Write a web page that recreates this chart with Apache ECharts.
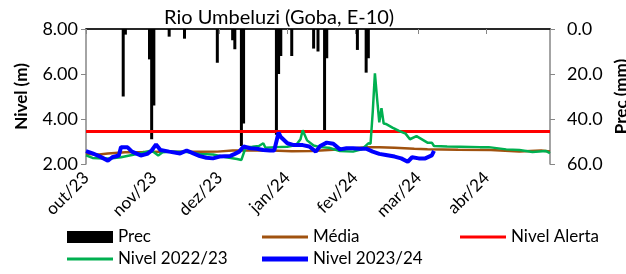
<!DOCTYPE html>
<html>
<head>
<meta charset="utf-8">
<script src="https://cdn.jsdelivr.net/npm/echarts@6/dist/echarts.min.js"></script>
<style>
    html, body {margin: 0; padding: 0; background: #fff;}
    #chart {width: 626px; height: 274px;}
</style>
</head>
<body>
<div id="chart"></div>
<script>
    // x axis: one category per day, 1 Oct 2023 .. 30 Apr 2024
    const monthLabels = ['out/23', 'nov/23', 'dez/23', 'jan/24', 'fev/24', 'mar/24', 'abr/24'];

    // precipitation (mm), day = days since 1 Oct 2023
    const precDays = [17, 18, 29, 30, 31, 38, 45, 60, 67, 68, 71, 72, 87, 88, 89, 94, 104, 106, 109, 110, 124, 128, 129];
    const precMm = [30, 2.5, 13.5, 49, 34, 3.4, 4.3, 15, 5, 9, 52, 42, 47, 20, 12, 12, 8.7, 10, 46, 13, 9.3, 19.4, 13];

    // Média
    const mediaDays = [0, 6, 10, 18, 26, 34, 43, 52, 60, 67, 75, 85, 94, 103, 107, 113, 122, 128, 134, 141, 150, 156, 170, 185, 198, 208, 212];
    const mediaLevel = [2.44, 2.42, 2.47, 2.52, 2.53, 2.55, 2.55, 2.54, 2.55, 2.6, 2.6, 2.6, 2.57, 2.58, 2.6, 2.63, 2.7, 2.74, 2.74, 2.72, 2.68, 2.66, 2.63, 2.62, 2.56, 2.6, 2.56];

    // Nivel Alerta
    const alertLevel = 3.45;

    // Nivel 2022/23
    const n2223Days = [0, 3, 8, 12, 16, 21, 26, 30, 33, 35, 40, 46, 52, 58, 64, 69, 71, 73, 76, 79, 81, 82, 87, 92, 96, 98, 99, 101, 104, 107, 111, 116, 122, 126, 129, 130, 131, 132, 133, 134, 135, 136, 137, 140, 143, 146, 148, 151, 156, 158, 159, 165, 171, 180, 184, 192, 198, 204, 210, 212];
    const n2223Level = [2.38, 2.27, 2.24, 2.25, 2.3, 2.4, 2.5, 2.6, 2.38, 2.52, 2.55, 2.53, 2.45, 2.42, 2.3, 2.22, 2.18, 2.75, 2.77, 2.8, 2.92, 2.72, 2.75, 2.77, 2.84, 3.1, 3.5, 3.05, 2.82, 2.75, 2.72, 2.58, 2.55, 2.65, 2.92, 2.9, 4.3, 6.03, 4.9, 3.85, 4.48, 3.8, 3.78, 3.62, 3.47, 3.35, 3.1, 3.24, 2.95, 2.95, 2.8, 2.78, 2.77, 2.75, 2.75, 2.65, 2.62, 2.53, 2.58, 2.48];

    // Nivel 2023/24
    const n2324Days = [0, 3, 6, 10, 12, 15, 16, 19, 21, 25, 28, 30, 32, 34, 38, 43, 46, 49, 52, 55, 58, 61, 66, 68, 70, 72, 75, 78, 81, 84, 86, 88, 89, 92, 95, 99, 102, 105, 107, 110, 113, 116, 119, 122, 125, 128, 131, 134, 137, 141, 144, 147, 149, 152, 155, 158, 159];
    const n2324Level = [2.57, 2.47, 2.35, 2.15, 2.3, 2.38, 2.75, 2.74, 2.55, 2.38, 2.45, 2.6, 2.87, 2.62, 2.55, 2.47, 2.6, 2.47, 2.35, 2.28, 2.25, 2.33, 2.36, 2.45, 2.55, 2.78, 2.7, 2.68, 2.62, 2.6, 2.6, 3.4, 3.2, 2.92, 2.84, 2.84, 2.78, 2.55, 2.8, 2.95, 2.9, 2.65, 2.7, 2.7, 2.68, 2.68, 2.55, 2.45, 2.4, 2.33, 2.25, 2.1, 2.3, 2.25, 2.25, 2.38, 2.58];

    const days = [];
    const d = new Date(2023, 9, 1);
    while (d <= new Date(2024, 3, 30)) {
        const m = String(d.getMonth() + 1).padStart(2, '0');
        const day = String(d.getDate()).padStart(2, '0');
        days.push(`${d.getFullYear()}-${m}-${day}`);
        d.setDate(d.getDate() + 1);
    }
    const isMonthStart = (i, v) => v.endsWith('-01');
    const monthLabel = v => {
        const [y, m] = v.split('-').map(Number);
        return monthLabels[(y - 2023) * 12 + m - 10];
    };
    const pairs = (xs, ys) => xs.map((x, i) => [x, ys[i]]);

    const font = 'Lato';
    const gray = '#868686';
    const myChart = echarts.init(document.getElementById('chart'));

    const legendItem = (name, left, top, h) => ({
        data: [name],
        left: left,
        top: top,
        padding: 0,
        icon: 'rect',
        itemWidth: 46,
        itemHeight: h,
        selectedMode: false,
        textStyle: {fontFamily: font, fontSize: 17, color: '#000', lineHeight: 18}
    });

    const option = {
        animation: false,
        title: {
            text: 'Rio Umbeluzi (Goba, E-10)',
            left: 164,
            top: 8,
            padding: 0,
            textStyle: {fontFamily: font, fontSize: 20, fontWeight: 'normal', color: '#000'}
        },
        legend: [
            legendItem('Prec', 67, 228, 12),
            legendItem('Média', 262, 228, 3),
            legendItem('Nivel Alerta', 460, 228, 3),
            legendItem('Nivel 2022/23', 67, 250, 3),
            legendItem('Nivel 2023/24', 262, 250, 5)
        ],
        grid: {left: 86, right: 76, top: 29, bottom: 110, outerBoundsMode: 'none'},
        xAxis: [
            {
                type: 'category',
                data: days,
                boundaryGap: false,
                axisLine: {lineStyle: {color: gray, width: 1.5}},
                axisTick: {interval: isMonthStart, length: 5, lineStyle: {color: gray}},
                axisLabel: {
                    interval: isMonthStart,
                    formatter: monthLabel,
                    rotate: 45,
                    margin: 11,
                    fontFamily: font,
                    fontSize: 17,
                    color: '#000'
                },
                splitLine: {show: false}
            },
            {
                type: 'category',
                data: days,
                position: 'top',
                boundaryGap: false,
                axisLine: {lineStyle: {color: '#000', width: 1.5}},
                axisTick: {show: false},
                axisLabel: {show: false}
            }
        ],
        yAxis: [
            {
                type: 'value',
                min: 2,
                max: 8,
                interval: 2,
                name: 'Nivel (m)',
                nameLocation: 'middle',
                nameGap: 56,
                nameTextStyle: {fontFamily: font, fontSize: 17, fontWeight: 'bold', color: '#000'},
                axisLine: {show: true, lineStyle: {color: gray, width: 1.5}},
                axisTick: {show: true, length: 5, lineStyle: {color: gray}},
                axisLabel: {formatter: v => v.toFixed(2), margin: 8, fontFamily: font, fontSize: 18, color: '#000'},
                splitLine: {show: false}
            },
            {
                type: 'value',
                position: 'right',
                min: 0,
                max: 60,
                interval: 20,
                inverse: true,
                name: 'Prec (mm)',
                nameLocation: 'middle',
                nameGap: 52,
                nameTextStyle: {fontFamily: font, fontSize: 17, fontWeight: 'bold', color: '#000'},
                axisLine: {show: true, lineStyle: {color: gray, width: 1.5}},
                axisTick: {show: true, length: 5, lineStyle: {color: gray}},
                axisLabel: {formatter: v => v.toFixed(1), margin: 17, fontFamily: font, fontSize: 18, color: '#000'},
                splitLine: {show: false}
            }
        ],
        series: [
            {
                name: 'Prec',
                type: 'bar',
                yAxisIndex: 1,
                barWidth: 3,
                itemStyle: {color: '#000'},
                data: pairs(precDays, precMm)
            },
            {
                name: 'Média',
                type: 'line',
                showSymbol: false,
                lineStyle: {color: '#A0520F', width: 2.5},
                itemStyle: {color: '#A0520F'},
                data: pairs(mediaDays, mediaLevel)
            },
            {
                name: 'Nivel Alerta',
                type: 'line',
                showSymbol: false,
                lineStyle: {color: '#FF0000', width: 3},
                itemStyle: {color: '#FF0000'},
                data: [[0, alertLevel], [days.length - 1, alertLevel]]
            },
            {
                name: 'Nivel 2022/23',
                type: 'line',
                showSymbol: false,
                lineStyle: {color: '#00B050', width: 2.5},
                itemStyle: {color: '#00B050'},
                data: pairs(n2223Days, n2223Level)
            },
            {
                name: 'Nivel 2023/24',
                type: 'line',
                showSymbol: false,
                lineStyle: {color: '#0000FF', width: 4},
                itemStyle: {color: '#0000FF'},
                data: pairs(n2324Days, n2324Level)
            }
        ]
    };
    myChart.setOption(option);
</script>
</body>
</html>
